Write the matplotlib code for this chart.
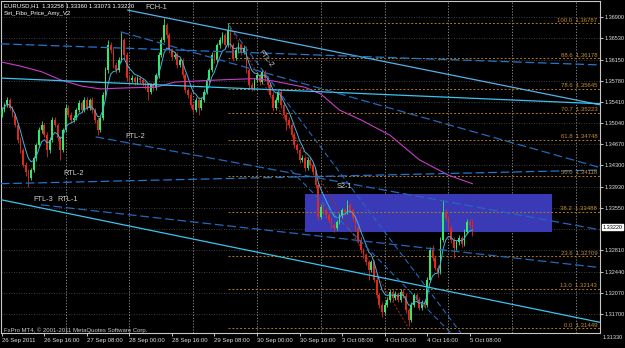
import numpy as np
import pandas as pd
import matplotlib
matplotlib.use("Agg")
import matplotlib.pyplot as plt
import matplotlib.transforms as mtransforms

plt.rcParams['font.family'] = ['Liberation Sans', 'DejaVu Sans']

# EURUSD H1 - precios en pips sobre 1.3000
base = 1.3
first_open_pips = 518
close_pips = [527, 536, 545, 531, 519, 501, 475, 457, 431, 419,
              408, 422, 443, 466, 492, 501, 484, 457, 475, 510,
              501, 478, 457, 492, 531, 519, 510, 513, 527, 539,
              527, 545, 531, 545, 527, 510, 492, 513, 554, 597,
              641, 632, 606, 597, 615, 650, 624, 583, 580, 583,
              576, 583, 580, 574, 571, 559, 571, 566, 588, 624,
              650, 676, 658, 632, 620, 624, 606, 615, 588, 562,
              554, 536, 527, 545, 531, 545, 559, 580, 597, 624,
              615, 641, 650, 658, 641, 667, 641, 618, 632, 641,
              629, 636, 597, 571, 566, 580, 588, 576, 594, 583,
              571, 554, 531, 545, 559, 536, 519, 510, 501, 484,
              466, 457, 440, 443, 426, 440, 431, 419, 396, 340,
              357, 352, 343, 335, 326, 321, 331, 343, 352, 349,
              361, 352, 338, 321, 300, 282, 273, 261, 247, 261,
              230, 203, 186, 174, 186, 195, 209, 198, 205, 195,
              209, 202, 177, 160, 186, 203, 195, 181, 191, 186,
              230, 282, 268, 251, 244, 300, 349, 338, 321, 300,
              286, 296, 303, 293, 314, 331, 326, 322]
high_pips = [532, 540, 550, 548, 534, 522, 505, 479, 461, 436,
             424, 426, 447, 470, 497, 508, 505, 488, 480, 515,
             514, 505, 482, 496, 538, 535, 523, 518, 531, 544,
             543, 550, 549, 548, 549, 531, 514, 517, 558, 602,
             650, 646, 636, 611, 620, 664, 654, 628, 588, 588,
             587, 587, 587, 584, 578, 575, 575, 576, 592, 628,
             655, 688, 680, 662, 636, 629, 628, 619, 619, 592,
             566, 558, 540, 549, 549, 549, 563, 584, 601, 628,
             629, 645, 655, 664, 662, 679, 671, 645, 637, 646,
             645, 641, 640, 601, 576, 584, 593, 592, 599, 598,
             587, 575, 558, 550, 563, 563, 540, 523, 514, 505,
             488, 470, 461, 448, 447, 444, 444, 435, 423, 400,
             362, 362, 356, 347, 339, 330, 335, 347, 356, 356,
             370, 365, 356, 342, 325, 304, 286, 277, 265, 265,
             265, 234, 207, 190, 190, 200, 213, 213, 210, 209,
             214, 213, 206, 181, 190, 207, 207, 199, 195, 196,
             235, 287, 290, 272, 255, 305, 370, 353, 342, 325,
             304, 300, 308, 307, 318, 336, 336, 336]
low_pips = [514, 524, 532, 527, 514, 497, 470, 452, 427, 412,
            392, 404, 418, 438, 462, 487, 480, 445, 452, 471,
            497, 473, 440, 453, 488, 515, 505, 506, 509, 523,
            522, 523, 527, 527, 522, 505, 484, 488, 509, 550,
            592, 627, 601, 592, 593, 611, 619, 578, 575, 576,
            571, 572, 575, 569, 564, 545, 555, 561, 562, 584,
            620, 646, 653, 627, 615, 616, 601, 602, 583, 557,
            548, 531, 522, 523, 519, 527, 541, 555, 576, 593,
            610, 611, 636, 645, 636, 637, 636, 613, 614, 627,
            624, 625, 592, 566, 561, 562, 576, 571, 572, 578,
            566, 549, 526, 527, 541, 531, 514, 492, 496, 479,
            461, 452, 435, 436, 421, 422, 426, 414, 391, 335,
            336, 347, 338, 330, 321, 314, 317, 327, 338, 344,
            345, 347, 333, 316, 295, 277, 268, 256, 230, 243,
            225, 198, 181, 165, 170, 182, 191, 193, 194, 190,
            191, 197, 172, 148, 156, 182, 190, 176, 177, 180,
            182, 226, 263, 246, 235, 240, 296, 333, 316, 295,
            268, 281, 290, 288, 289, 310, 321, 307]

# media movil magenta (vertices)
magenta_bar = [0, 7, 15, 22, 30, 37, 48, 58, 65, 83, 95, 102, 114, 120, 127, 135, 146, 157, 168, 177]
magenta_price = [1.3611, 1.3604, 1.3594, 1.3580, 1.3569, 1.3564, 1.3566, 1.3567, 1.3576, 1.3580,
                 1.3582, 1.3578, 1.3567, 1.3555, 1.3527, 1.3510, 1.3483, 1.3440, 1.3413, 1.3398]

# Fibonacci (Set_Fibo_Price_Amy_V2)
fib_start_bar = 85
fib_end_bar = 153
fib_pct = ['100.0', '88.6', '78.6', '70.7', '61.8', '50.0', '38.2', '23.6', '13.0', '0.0']
fib_price = [1.36787, 1.36178, 1.35645, 1.35223, 1.34748, 1.34118, 1.33488, 1.32709, 1.32143, 1.31449]

# zona S2-1
box_bars = (113.9, 207.1)
box_prices = (1.33138, 1.33803)

# lineas de tendencia (barra, precio)
fch1 = ([47.4, 225.2], [1.3702, 1.3536])
dash_top = ([-0.4, 225.2], [1.3643, 1.3606])
cyan_top = ([-0.4, 225.2], [1.3583, 1.3538])
dash_mid = ([44.7, 225.2], [1.3664, 1.3426])
ftl2 = ([35.3, 225.2], [1.3480, 1.3317])
rtl2 = ([-0.4, 225.2], [1.3398, 1.3422])
ftl3 = ([-0.4, 225.2], [1.3370, 1.3155])
rtl1 = ([14.7, 225.2], [1.3361, 1.3251])
ftl2_steep = ([85.3, 172.6], [1.3676, 1.3137])
steep2 = ([108.6, 168.8], [1.3422, 1.3137])

# ejes
price_ticks = [1.3690, 1.3653, 1.3615, 1.3578, 1.3541, 1.3504, 1.3467, 1.3430,
               1.3393, 1.3355, 1.3281, 1.3244, 1.3207, 1.3170]
price_bottom = 1.3133
price_grid = price_ticks + [1.3318]
time_bars = [0, 16, 32, 48, 64, 80, 96, 112, 128, 144, 160, 176]
time_labels = ['26 Sep 2011', '26 Sep 16:00', '27 Sep 08:00', '28 Sep 00:00', '28 Sep 16:00',
               '29 Sep 08:00', '30 Sep 00:00', '30 Sep 16:00', '3 Oct 08:00', '4 Oct 00:00',
               '4 Oct 16:00', '5 Oct 08:00']
day_bars = [24, 48, 72, 96, 120, 144, 168, 192, 216]
last_price = 1.33220

close = base + np.array(close_pips) / 10000
high = base + np.array(high_pips) / 10000
low = base + np.array(low_pips) / 10000
open_ = np.concatenate([[base + first_open_pips / 10000], close[:-1]])
bars = np.arange(len(close))
ma_fast = pd.Series(close).ewm(span=6).mean()

fig = plt.figure(figsize=(6.25, 3.48), dpi=100, facecolor='black')
ax = fig.add_axes([1 / 625, 15 / 348, 599 / 625, 332 / 348])
ax.set_facecolor('black')
ax.set_xlim(-0.3, 225)
ax.set_ylim(1.31365, 1.37180)

for s in ax.spines.values():
    s.set_color('#c8c8c8')
    s.set_linewidth(0.8)

# rejilla
for p in price_grid:
    ax.axhline(p, color='#505050', lw=0.6, ls=(0, (1, 2)), zorder=0.5)
for b in day_bars:
    ax.axvline(b, color='#9a9a9a', lw=0.6, ls=(0, (1.5, 2)), zorder=0.5)

# zona S2-1
ax.fill_between(box_bars, box_prices[0], box_prices[1], color='#3a3ab6', lw=0, zorder=1)

# Fibonacci
ax.hlines(fib_price, fib_start_bar, 225, colors='#b07818', lw=0.7, linestyles=(0, (2, 2)), zorder=2)
for pct, p in zip(fib_pct, fib_price):
    ax.text(224, p + 0.00012, f'{pct}  {p:.5f}', ha='right', va='bottom', fontsize=4.3,
            color='#c48c2c', zorder=6)
ax.plot([fib_start_bar, fib_end_bar], [fib_price[0], fib_price[-1]], color='#b02810', lw=0.7,
        ls=(0, (2, 2)), zorder=2)

# velas
up = close >= open_
cols = np.where(up, '#30ea6c', '#dc2a1e')
ax.vlines(bars, low, high, colors=cols, lw=0.6, zorder=3)
body = np.maximum(np.abs(close - open_), 0.00003)
ax.bar(bars, body, bottom=np.minimum(open_, close), width=0.65, color=cols, lw=0, zorder=3)

# medias moviles
ax.plot(bars, ma_fast, color='#4ab0e0', lw=0.7, zorder=4)
ax.plot(magenta_bar, magenta_price, color='#c83cc8', lw=0.8, zorder=4)

# lineas de tendencia
dash = (0, (7, 3))
ax.plot(*fch1, color='#55b2e8', lw=0.9, zorder=5)
ax.plot(*dash_top, color='#2277cc', lw=0.9, ls=dash, zorder=5)
ax.plot(*cyan_top, color='#3cc4f0', lw=0.9, zorder=5)
ax.plot(*dash_mid, color='#2468bc', lw=0.9, ls=dash, zorder=5)
ax.plot(*ftl2, color='#2468bc', lw=0.9, ls=dash, zorder=5)
ax.plot(*rtl2, color='#2277cc', lw=0.9, ls=dash, zorder=5)
ax.plot(*ftl3, color='#3cc4f0', lw=0.9, zorder=5)
ax.plot(*rtl1, color='#2468bc', lw=0.9, ls=dash, zorder=5)
ax.plot(*ftl2_steep, color='#2468bc', lw=0.8, ls=(0, (5, 3)), zorder=5)
ax.plot(*steep2, color='#2468bc', lw=0.8, ls=(0, (5, 3)), zorder=5)

# etiquetas de objetos
lab = dict(color='#d0d0d0', fontsize=5.3, zorder=6)
ax.text(54, 1.3706, 'FCH-1', va='center', **lab)
ax.text(99.2, 1.3616, 'FTL-2', va='center', ha='center', rotation=-52, **lab)
ax.text(46.5, 1.3480, 'FTL-2', va='center', **lab)
ax.text(23, 1.3415, 'RTL-2', va='center', **lab)
ax.text(12, 1.3370, 'FTL-3', va='center', **lab)
ax.text(21, 1.3370, 'RTL-1', va='center', **lab)
ax.text(126, 1.3393, 'S2-1', va='center', **lab)

# eje de precios
ax.yaxis.tick_right()
ax.set_yticks(price_ticks)
ax.set_yticklabels([f'{p:.5f}' for p in price_ticks])
ax.tick_params(axis='y', colors='#e0e0e0', labelsize=4.0, length=2, pad=1, width=0.6)
trans = mtransforms.blended_transform_factory(ax.transAxes, ax.transData)
ax.text(1.0045, price_bottom, f'{price_bottom:.5f}', transform=trans, va='top', ha='left',
        fontsize=4.0, color='#e0e0e0')
ax.text(1.004, last_price, f'{last_price:.5f}', transform=trans, va='center', ha='left',
        fontsize=4.0, color='black', zorder=7,
        bbox=dict(facecolor='white', edgecolor='white', pad=0.6))

# eje de tiempo
ax.set_xticks(time_bars)
ax.set_xticklabels(time_labels, ha='left')
ax.tick_params(axis='x', colors='#e0e0e0', labelsize=4.3, length=2, pad=1.5, width=0.6)

# textos de la ventana
fig.text(4 / 625, 1 - 6 / 348, 'EURUSD,H1  1.33258 1.33360 1.33073 1.33220', color='white',
         fontsize=4.3, va='center')
fig.text(4 / 625, 1 - 14 / 348, 'Set_Fibo_Price_Amy_V2', color='white', fontsize=4.3, va='center')
fig.text(4 / 625, 1 - 330 / 348, 'FxPro MT4, \u00a9 2001-2011 MetaQuotes Software Corp.',
         color='#c8c8c8', fontsize=4.3, va='center')

fig.savefig('out.png', dpi=100, facecolor='black')
